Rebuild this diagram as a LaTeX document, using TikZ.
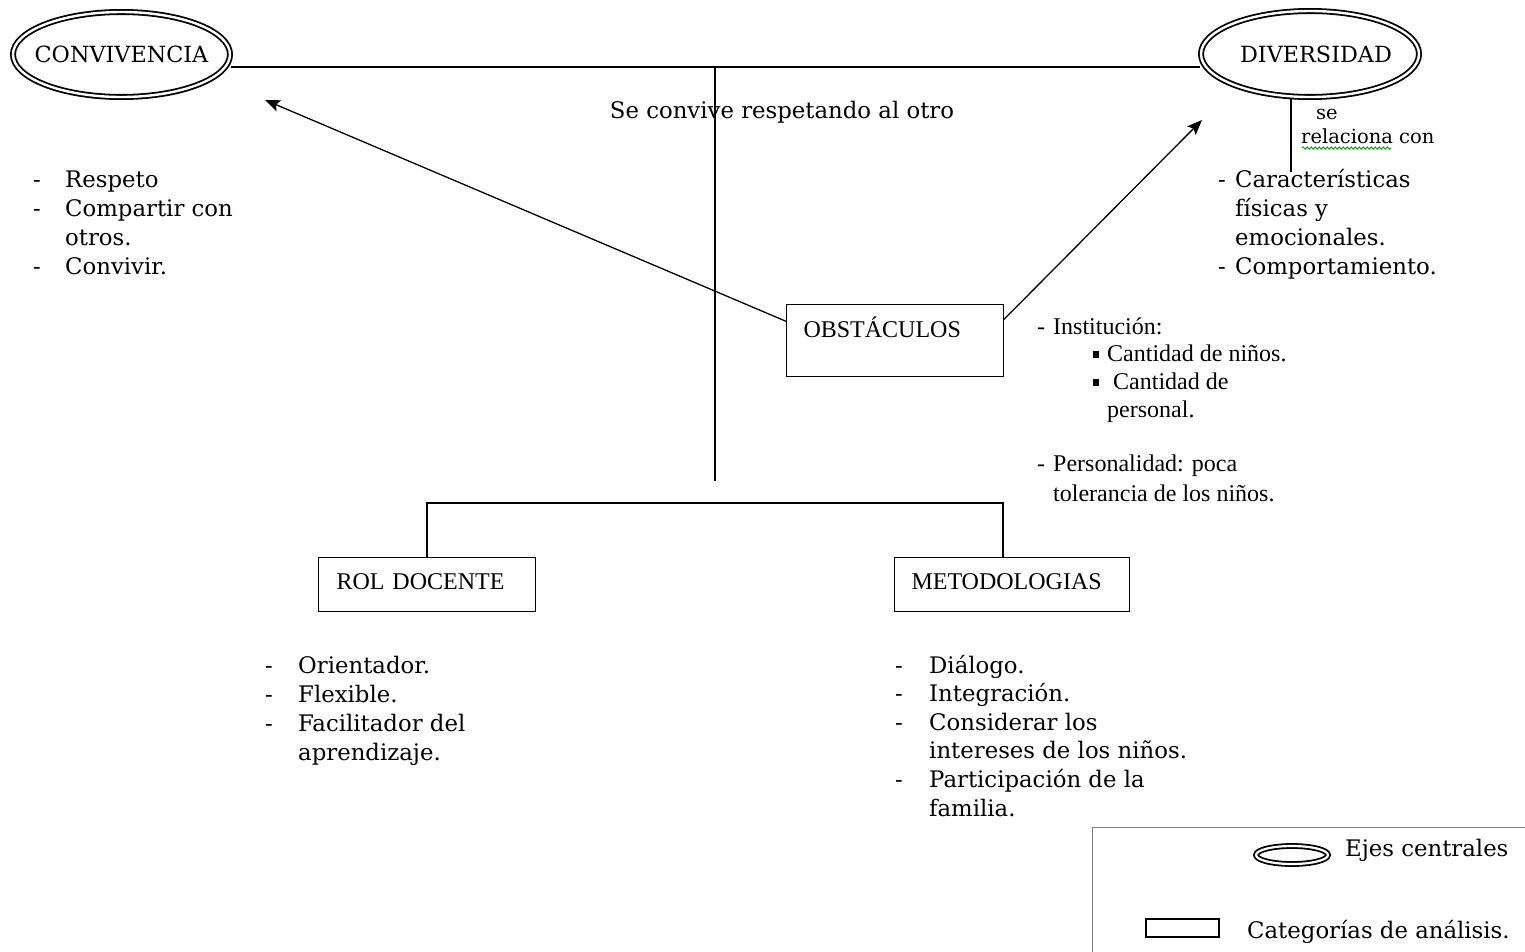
\documentclass[tikz,border=0pt]{standalone}
\usepackage{fontspec}
\setmainfont{Liberation Serif}
\newfontfamily\slab{DejaVu Serif}
\usetikzlibrary{shapes.geometric,arrows.meta,decorations.pathmorphing}
\newcommand{\bul}{\rule[3pt]{6pt}{7pt}}
\begin{document}
\begin{tikzpicture}[x=1pt,y=-1pt,
  eje/.style={ellipse, draw, double, double distance=2.4pt, line width=1.8pt, inner sep=0pt},
  ejetext/.style={font=\slab\fontsize{22.3}{26}\selectfont, inner sep=0pt},
  cat/.style={draw, line width=1pt, inner ysep=0pt, align=left, anchor=north west, font=\fontsize{24}{28}\selectfont},
  sl/.style={anchor=base west, inner sep=0pt, font=\slab\fontsize{22.8}{29}\selectfont},
  tm/.style={anchor=base west, inner sep=0pt, font=\fontsize{24}{28}\selectfont},
  ln/.style={line width=1.3pt},
  arr/.style={ln, -{Stealth[length=15pt,width=12pt,inset=3pt]}}]
\useasboundingbox (0,0) rectangle (1525,951);

% central axes
\node[eje, minimum width=217pt, minimum height=85pt, label={[ejetext]center:CONVIVENCIA}] (conv) at (121.5,54.5) {};
\node[eje, minimum width=218pt, minimum height=86pt, label={[ejetext, xshift=6pt]center:DIVERSIDAD}] (div) at (1310,54) {};
\coordinate (top) at (715,67);
\coordinate (trunk) at (715,481);
\node[anchor=base, inner sep=0pt, font=\slab\fontsize{22.8}{26}\selectfont] (lema) at (782,118) {Se convive respetando al otro};
\draw[ln] (conv.east |- top) -- (div.west |- top);
\draw[ln] (top) -- (trunk);

% obstacles
\node[cat, inner xsep=17pt, text width=183pt, text height=33pt, text depth=39pt] (obs) at (786,304) {OBSTÁCULOS};
\coordinate (a1) at (265,100);
\coordinate (a2) at (1202,120);
\draw[arr] (obs.170) -- (a1);
\draw[arr] (obs.11) -- (a2);

% diversidad relation
\coordinate (dv) at (1291,172);
\draw[ln] (dv) -- (dv |- div.south);
\node[anchor=base west, inner sep=0pt, font=\slab\fontsize{19.5}{22}\selectfont] (se) at (1316,119) {se};
\node[anchor=base west, inner sep=0pt, font=\slab\fontsize{19.5}{22}\selectfont] (rel) at (1301,143) {relaciona con};
\draw[green!60!black, line width=0.8pt, decorate, decoration={snake, amplitude=1.2pt, segment length=4pt}] (1302,148) -- (1391,148);

% lists
\node[sl] (lconv) at (33,187) {\begin{tabular}[t]{@{}p{32pt}@{}l@{}}-&Respeto\\-&Compartir con\\&otros.\\-&Convivir.\end{tabular}};
\node[sl] (ldiv) at (1218,187) {\begin{tabular}[t]{@{}p{17pt}@{}l@{}}-&Características\\&físicas y\\&emocionales.\\-&Comportamiento.\end{tabular}};
\node[tm] (linst) at (1037,334) {\begin{tabular}[t]{@{}p{16pt}@{}l@{}}-&Institución:\end{tabular}};
\node[tm] (lbul) at (1093,361) {\begin{tabular}[t]{@{}p{14pt}@{}l@{}}\bul&Cantidad de niños.\\\bul&\hspace{6pt}Cantidad de\\&personal.\end{tabular}};
\node[tm, font=\fontsize{24}{30}\selectfont] (lpers) at (1037,471) {\begin{tabular}[t]{@{}p{16pt}@{}l@{}}-&Personalidad: poca\\&tolerancia de los niños.\end{tabular}};

% tree
\node[cat, inner xsep=18pt, text width=181pt, text height=32pt, text depth=22pt] (rol) at (318,557) {ROL DOCENTE};
\node[cat, inner xsep=17pt, text width=201pt, text height=32pt, text depth=22pt] (met) at (894,557) {METODOLOGIAS};
\coordinate (mx) at (1003,0);
\draw[ln] (rol.north) -- ++(0,-54) -| (met.north -| mx);

\node[sl] (lrol) at (265,673) {\begin{tabular}[t]{@{}p{33pt}@{}l@{}}-&Orientador.\\-&Flexible.\\-&Facilitador del\\&aprendizaje.\end{tabular}};
\node[sl, font=\slab\fontsize{22.8}{28.6}\selectfont] (lmet) at (895,673) {\begin{tabular}[t]{@{}p{34pt}@{}l@{}}-&Diálogo.\\-&Integración.\\-&Considerar los\\&intereses de los niños.\\-&Participación de la\\&familia.\end{tabular}};

% legend
\node[draw=gray, line width=1pt, anchor=north west, minimum width=460pt, minimum height=140pt, inner sep=0pt] (leg) at (1092,827) {};
\node[ellipse, draw, double, double distance=2.2pt, line width=1.8pt, minimum width=72pt, minimum height=18pt, inner sep=0pt] (legE) at (1292,855) {};
\node[sl] (legEt) at (1345,856) {Ejes centrales};
\node[draw, line width=1.3pt, minimum width=73pt, minimum height=18pt, inner sep=0pt] (legR) at (1182.5,928) {};
\node[sl] (legRt) at (1247,938) {Categorías de análisis.};
\end{tikzpicture}
\end{document}
